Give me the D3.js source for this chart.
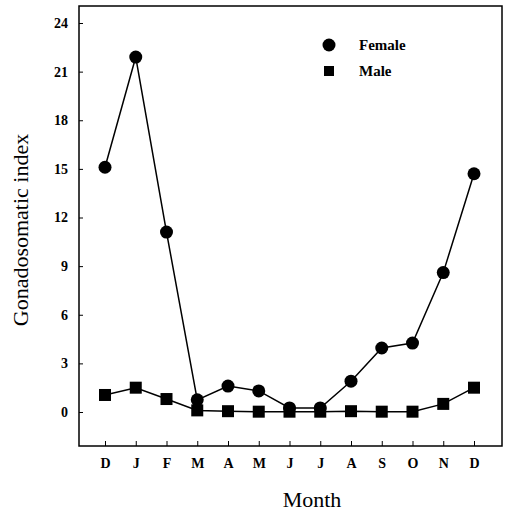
<!DOCTYPE html>
<html>
<head>
<meta charset="utf-8">
<script src="https://cdn.jsdelivr.net/npm/d3@7"></script>
<style>
  html, body { margin: 0; padding: 0; background: #fff; }
  svg { display: block; }
  text { font-family: "Liberation Serif", "Times New Roman", serif; fill: #000; }
</style>
</head>
<body>
<svg id="chart" width="505" height="520"></svg>
<script>
// Monthly gonadosomatic index, December through December
const months = ["D", "J", "F", "M", "A", "M", "J", "J", "A", "S", "O", "N", "D"];
const female = [15.1, 21.9, 11.1, 0.75, 1.6, 1.3, 0.25, 0.25, 1.9, 3.95, 4.25, 8.6, 14.7];
const male = [1.05, 1.5, 0.8, 0.1, 0.05, 0.02, 0.02, 0.02, 0.05, 0.02, 0.02, 0.5, 1.5];
const yTicks = [0, 3, 6, 9, 12, 15, 18, 21, 24];

const svg = d3.select("#chart");
const frame = { left: 79, right: 502, top: 6, bottom: 446 };

const x = d3.scalePoint()
  .domain(d3.range(months.length))
  .range([105, 474]);

const y = d3.scaleLinear()
  .domain([0, 24])
  .range([412, 23]);

// Frame
svg.append("rect")
  .attr("x", frame.left).attr("y", frame.top)
  .attr("width", frame.right - frame.left).attr("height", frame.bottom - frame.top)
  .attr("fill", "none").attr("stroke", "#000").attr("stroke-width", 1.5);

// Y axis (inward ticks)
const yAxis = d3.axisRight(y).tickValues(yTicks).tickSize(4);
const gy = svg.append("g").attr("transform", `translate(${frame.left},0)`).call(yAxis);
gy.select(".domain").remove();
gy.selectAll(".tick line").attr("stroke", "#000").attr("stroke-width", 1);
gy.selectAll(".tick text")
  .attr("text-anchor", "end")
  .attr("x", -11)
  .style("font-size", "14px")
  .style("font-weight", "bold");

// X axis (inward ticks)
const xAxis = d3.axisTop(x).tickFormat(i => months[i]).tickSize(5);
const gx = svg.append("g").attr("transform", `translate(0,${frame.bottom})`).call(xAxis);
gx.select(".domain").remove();
gx.selectAll(".tick line").attr("stroke", "#000").attr("stroke-width", 1);
gx.selectAll(".tick text")
  .attr("y", 22)
  .style("font-size", "14px")
  .style("font-weight", "bold");

const line = d3.line().x((d, i) => x(i)).y(d => y(d));

// Female series
svg.append("path").datum(female)
  .attr("d", line).attr("fill", "none").attr("stroke", "#000").attr("stroke-width", 1.5);
svg.append("g").selectAll("circle").data(female).join("circle")
  .attr("cx", (d, i) => x(i)).attr("cy", d => y(d)).attr("r", 6.5).attr("fill", "#000");

// Male series
svg.append("path").datum(male)
  .attr("d", line).attr("fill", "none").attr("stroke", "#000").attr("stroke-width", 1.5);
const sq = 12;
svg.append("g").selectAll("rect").data(male).join("rect")
  .attr("x", (d, i) => x(i) - sq / 2).attr("y", d => y(d) - sq / 2)
  .attr("width", sq).attr("height", sq).attr("fill", "#000");

// Legend
const legend = svg.append("g");
legend.append("circle").attr("cx", 329).attr("cy", 45).attr("r", 6.5).attr("fill", "#000");
legend.append("text").attr("x", 359).attr("y", 50)
  .style("font-size", "15px").style("font-weight", "bold").text("Female");
legend.append("rect").attr("x", 324).attr("y", 66).attr("width", 10).attr("height", 10).attr("fill", "#000");
legend.append("text").attr("x", 359).attr("y", 76)
  .style("font-size", "15px").style("font-weight", "bold").text("Male");

// Axis titles
svg.append("text")
  .attr("transform", "translate(28,230) rotate(-90)")
  .attr("text-anchor", "middle")
  .style("font-size", "22px")
  .text("Gonadosomatic index");

svg.append("text")
  .attr("x", 312).attr("y", 507)
  .attr("text-anchor", "middle")
  .style("font-size", "22px")
  .text("Month");
</script>
</body>
</html>
